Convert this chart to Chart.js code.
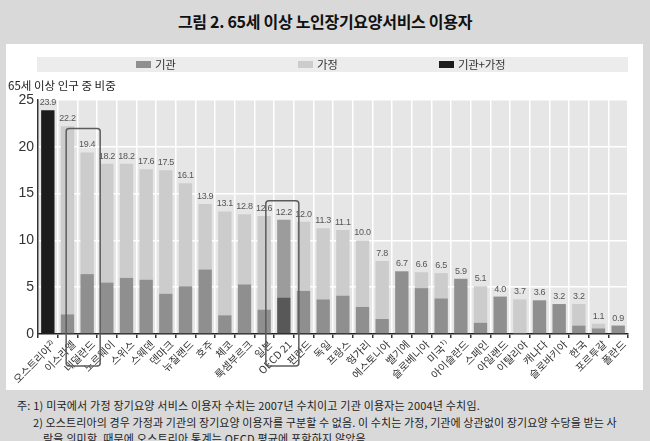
<!DOCTYPE html>
<html>
<head>
<meta charset="utf-8">
<script src="https://cdn.jsdelivr.net/npm/chart.js@4"></script>
<style>
  body { margin: 0; width: 650px; height: 441px; background: #d9d9d9; overflow: hidden; position: relative;
         font-family: "Noto Sans CJK KR", sans-serif; }
  #title { position: absolute; left: 0; top: 9px; width: 650px; text-align: center; font-size: 16px;
           font-weight: bold; color: #111; letter-spacing: -0.3px; line-height: 24px; }
  #panel { position: absolute; left: 6px; top: 44px; width: 637px; height: 346px; background: #fff; }
  #legend { position: absolute; left: 31px; top: 13px; width: 591px; height: 15px; background: #ececec; }
  .item { position: absolute; top: 0; font-size: 11.5px; line-height: 15px; color: #333; letter-spacing: -0.3px; }
  .item span { display: inline-block; width: 15px; height: 7px; margin-right: 4px; vertical-align: 1px; }
  #ytitle { position: absolute; left: 2px; top: 34px; font-size: 11.5px; color: #222; letter-spacing: 0px; line-height: 14px; }
  .note { position: absolute; font-size: 11px; color: #222; letter-spacing: 0.2px; line-height: 14px; white-space: nowrap; }
</style>
</head>
<body>
<div id="title">그림 2. 65세 이상 노인장기요양서비스 이용자</div>
<div id="panel">
  <div id="legend"></div>
  <div id="ytitle">65세 이상 인구 중 비중</div>
  <canvas id="chart" width="637" height="346"></canvas>
</div>
<div class="note" style="left:17px;top:398px">주: 1) 미국에서 가정 장기요양 서비스 이용자 수치는 2007년 수치이고 기관 이용자는 2004년 수치임.</div>
<div class="note" style="left:33px;top:415px;letter-spacing:0.1px">2) 오스트리아의 경우 가정과 기관의 장기요양 이용자를 구분할 수 없음. 이 수치는 가정, 기관에 상관없이 장기요양 수당을 받는 사</div>
<div class="note" style="left:43px;top:431px">람을 의미함. 때문에 오스트리아 통계는 OECD 평균에 포함하지 않았음.</div>
<script>
const countries = ['오스트리아²⁾', '이스라엘', '네덜란드', '노르웨이', '스위스', '스웨덴', '덴마크', '뉴질랜드', '호주', '체코',
  '룩셈부르크', '일본', 'OECD 21', '핀란드', '독일', '프랑스', '헝가리', '에스토니아', '벨기에', '슬로베니아',
  '미국¹⁾', '아이슬란드', '스페인', '아일랜드', '이탈리아', '캐나다', '슬로바키아', '한국', '포르투갈', '폴란드'];
const institution = [0, 2.1, 6.4, 5.5, 6.0, 5.8, 4.3, 5.1, 6.9, 2.0,
  5.3, 2.6, 3.9, 4.6, 3.7, 4.1, 2.9, 1.6, 6.7, 4.9,
  3.8, 5.9, 1.2, 4.0, 0, 3.6, 3.2, 0.9, 0.6, 0.9];
const home = [0, 20.1, 13.0, 12.7, 12.2, 11.8, 13.2, 11.0, 7.0, 11.1,
  7.5, 10.0, 8.3, 7.4, 7.6, 7.0, 7.1, 6.2, 0, 1.7,
  2.7, 0, 3.9, 0, 3.7, 0, 0, 2.3, 0.5, 0];
const combined = [23.9, 0, 0, 0, 0, 0, 0, 0, 0, 0,
  0, 0, 0, 0, 0, 0, 0, 0, 0, 0,
  0, 0, 0, 0, 0, 0, 0, 0, 0, 0];
const yTicks = [0, 5, 10, 15, 20, 25];
const highlighted = ['네덜란드', 'OECD 21'];

const oecdIdx = countries.indexOf('OECD 21');
const instColors = countries.map((c, i) => i === oecdIdx ? '#585858' : '#8f8f8f');
const homeColors = countries.map((c, i) => i === oecdIdx ? '#9c9c9c' : '#cccccc');

// legend band
const legendItems = [['기관', '#8f8f8f', 99], ['가정', '#cccccc', 261], ['기관+가정', '#1c1c1c', 402]];
const legendEl = document.getElementById('legend');
legendItems.forEach(([txt, col, left]) => {
  const d = document.createElement('div');
  d.className = 'item';
  d.style.left = left + 'px';
  d.innerHTML = '<span style="background:' + col + '"></span>' + txt;
  legendEl.appendChild(d);
});

const plotBg = {
  id: 'plotBg',
  beforeDraw(chart) {
    const { ctx, chartArea: a } = chart;
    ctx.save();
    ctx.fillStyle = '#e6e6e6';
    ctx.fillRect(a.left, a.top, a.right - a.left, a.bottom - a.top);
    ctx.restore();
  }
};

const totalsLabels = {
  id: 'totalsLabels',
  afterDatasetsDraw(chart) {
    const { ctx } = chart;
    const y = chart.scales.y;
    const meta = chart.getDatasetMeta(0);
    ctx.save();
    ctx.font = '9px "Liberation Sans", sans-serif';
    ctx.letterSpacing = '-0.3px';
    ctx.fillStyle = '#555';
    ctx.textAlign = 'center';
    ctx.textBaseline = 'bottom';
    countries.forEach((c, i) => {
      const total = institution[i] + home[i] + combined[i];
      ctx.fillText(total.toFixed(1), meta.data[i].x, y.getPixelForValue(total) - 3);
    });
    ctx.restore();
  }
};

// rounded frames around the two highlighted labels: [left, right, gap above bar]
const boxShape = { '네덜란드': [-21, 13, 24], 'OECD 21': [-18, 15, 19] };
const boxes = {
  id: 'boxes',
  afterDraw(chart) {
    const { ctx, chartArea: a } = chart;
    const y = chart.scales.y;
    const meta = chart.getDatasetMeta(0);
    ctx.save();
    ctx.strokeStyle = '#5c5c5c';
    ctx.lineWidth = 1.5;
    highlighted.forEach(name => {
      const i = countries.indexOf(name);
      const [l, r, gap] = boxShape[name];
      const total = institution[i] + home[i] + combined[i];
      const cx = meta.data[i].x;
      const top = y.getPixelForValue(total) - gap;
      ctx.beginPath();
      ctx.roundRect(cx + l, top, r - l, a.bottom + 32 - top, 3);
      ctx.stroke();
    });
    ctx.restore();
  }
};

new Chart(document.getElementById('chart'), {
  type: 'bar',
  data: {
    labels: countries,
    datasets: [
      { label: '기관', data: institution, backgroundColor: instColors },
      { label: '가정', data: home, backgroundColor: homeColors },
      { label: '기관+가정', data: combined, backgroundColor: '#1c1c1c' }
    ]
  },
  options: {
    responsive: false,
    animation: false,
    layout: { padding: { top: 56, right: 15, bottom: 0, left: 0 } },
    datasets: { bar: { categoryPercentage: 1, barPercentage: 0.68, borderWidth: 0 } },
    plugins: { legend: { display: false }, tooltip: { enabled: false } },
    scales: {
      x: {
        stacked: true,
        afterFit(axis) { axis.height = 56; },
        grid: { color: '#ffffff', lineWidth: 1.5, tickColor: '#333', tickLength: 4, offset: true },
        border: { color: '#222', width: 1.5 },
        ticks: {
          minRotation: 45, maxRotation: 45, autoSkip: false, padding: 0, labelOffset: 6,
          color: '#333', font: { family: '"Noto Sans CJK KR", sans-serif', size: 10.5 }
        }
      },
      y: {
        stacked: true,
        min: 0, max: 25,
        afterFit(axis) { axis.width = 32; },
        afterBuildTicks(axis) { axis.ticks = yTicks.map(v => ({ value: v })); },
        grid: { color: '#ffffff', lineWidth: 1.5, drawTicks: false },
        border: { color: '#333', width: 1.5 },
        ticks: {
          padding: 4, color: '#333',
          font: { family: '"Liberation Sans Narrow", "Liberation Sans", sans-serif', size: 14 }
        }
      }
    }
  },
  plugins: [plotBg, totalsLabels, boxes]
});
</script>
</body>
</html>
